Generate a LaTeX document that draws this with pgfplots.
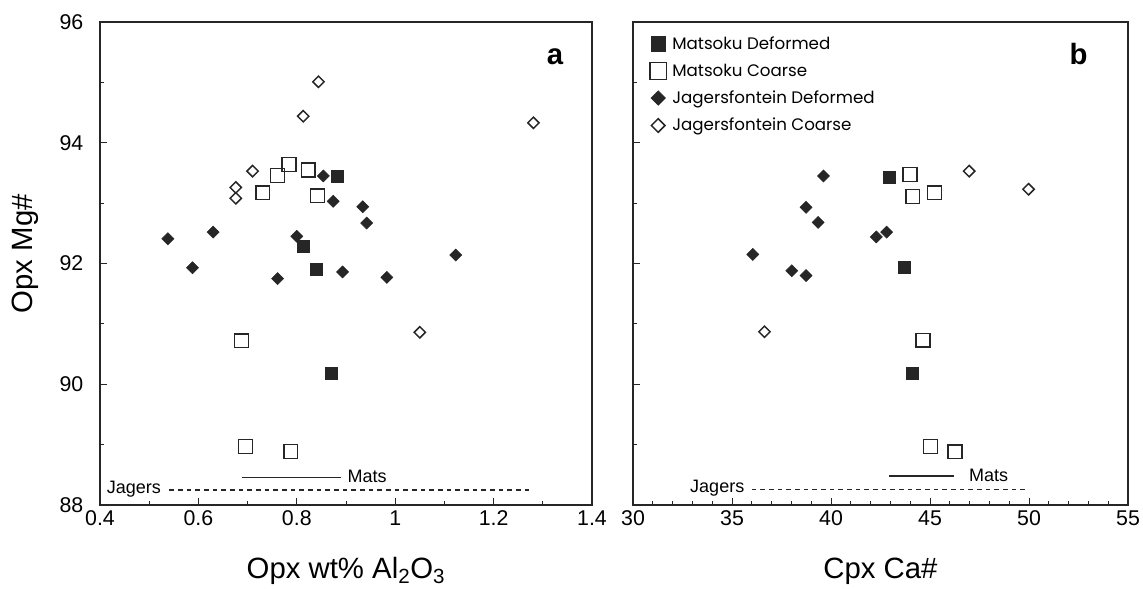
\documentclass[border=0pt]{standalone}
\usepackage{pgfplots}
\pgfplotsset{compat=1.18}
\usepackage{fontspec}
\setmainfont{Liberation Sans}
\newfontfamily\legendfont{Poppins}

% Opx Mg# against Opx Al2O3 (panel a) and Cpx Ca# (panel b)
% columns: Al2O3 (wt%), Mg#
\pgfplotstableread{
x y
0.883 93.44
0.813 92.28
0.840 91.91
0.870 90.18
}\matdefA
\pgfplotstableread{
x y
0.784 93.64
0.761 93.46
0.823 93.55
0.731 93.17
0.842 93.12
0.688 90.72
0.696 88.97
0.788 88.89
}\matcoarseA
\pgfplotstableread{
x y
0.854 93.45
0.874 93.03
0.934 92.94
0.942 92.67
0.538 92.41
0.630 92.52
0.800 92.45
0.588 91.93
0.761 91.75
0.893 91.86
0.983 91.77
1.123 92.14
}\jagdefA
\pgfplotstableread{
x y
0.844 95.01
0.813 94.44
1.281 94.33
0.710 93.53
0.676 93.26
0.676 93.08
1.050 90.86
}\jagcoarseA
% columns: Ca#, Mg#
\pgfplotstableread{
x y
42.94 93.43
43.69 91.93
44.09 90.18
}\matdefB
\pgfplotstableread{
x y
43.99 93.47
44.13 93.11
45.23 93.17
44.65 90.73
45.03 88.97
46.26 88.88
}\matcoarseB
\pgfplotstableread{
x y
39.62 93.45
38.74 92.93
39.35 92.68
42.29 92.44
42.81 92.52
36.05 92.15
38.02 91.88
38.74 91.80
}\jagdefB
\pgfplotstableread{
x y
46.98 93.53
49.98 93.23
36.64 90.87
}\jagcoarseB

\tikzset{
  rangelabel/.style={font=\fontsize{13.5}{15}\selectfont, inner sep=1pt},
  panellabel/.style={font=\fontsize{22}{26}\selectfont\bfseries, anchor=base east},
}

\pgfplotsset{
  panel/.style={
    scale only axis,
    height=362.25pt,
    ymin=88, ymax=96,
    ytick={88,90,...,96},
    minor y tick num=1,
    tick pos=left,
    tick align=inside,
    major tick length=5pt,
    minor tick length=3pt,
    axis line style={line width=0.9pt, black!85},
    every tick/.style={black!85, line width=0.7pt},
    tick label style={font=\fontsize{16}{18}\selectfont},
    /pgf/number format/assume math mode=true,
    yticklabel style={xshift=-9pt},
    xticklabel style={yshift=-1pt},
    xlabel style={font=\fontsize{22}{26}\selectfont, at={(axis description cs:0.5,0)}, anchor=base, yshift=-55pt},
    ylabel style={font=\fontsize{22}{26}\selectfont},
    clip=false,
  },
  matdef/.style={only marks, mark=square*, mark size=4.5pt, mark options={fill=black!85, draw=black!85}},
  matcoarse/.style={only marks, mark=square, mark size=5.2pt, mark options={draw=black!85, line width=1pt}},
  jagdef/.style={only marks, mark=square*, mark size=3.2pt, mark options={rotate=45, fill=black!85, draw=black!85}},
  jagcoarse/.style={only marks, mark=square, mark size=3.0pt, mark options={rotate=45, draw=black!85, line width=1.1pt}},
  rangeline/.style={black!85, line width=0.9pt, no marks},
  rangedash/.style={black!85, line width=0.9pt, no marks, dash pattern=on 3.5pt off 3pt},
}

\begin{document}
\begin{tikzpicture}
\useasboundingbox (-75pt,-63pt) rectangle (782.25pt,378.75pt);

\begin{axis}[panel,
  at={(0pt,0pt)}, anchor=south west,
  width=369pt,
  xmin=0.4, xmax=1.4,
  xtick={0.4,0.6,...,1.4},
  minor x tick num=1,
  xticklabel style={/pgf/number format/fixed, /pgf/number format/precision=1},
  xlabel={Opx wt\% Al\textsubscript{2}O\textsubscript{3}},
  ylabel={Opx Mg\#},
  ylabel style={at={(axis description cs:-0.115,0.52)}, anchor=south},
]
\addplot[matcoarse] table {\matcoarseA};
\addplot[jagcoarse] table {\jagcoarseA};
\addplot[jagdef] table {\jagdefA};
\addplot[matdef] table {\matdefA};
% compositional ranges of the two suites
\addplot[rangeline] coordinates {(0.689,88.46) (0.890,88.46)};
\addplot[rangedash] coordinates {(0.541,88.25) (1.279,88.25)};
\node[rangelabel, anchor=west] at (axis cs:0.900,88.47) {Mats};
\node[rangelabel, anchor=east] at (axis cs:0.527,88.27) {Jagers};
\node[panellabel] at (axis cs:1.351,95.3) {a};
\end{axis}

\begin{axis}[panel,
  at={(399.75pt,0pt)}, anchor=south west,
  width=371.25pt,
  xmin=30, xmax=55,
  xtick={30,35,...,55},
  minor x tick num=4,
  yticklabels={},
  xlabel={Cpx Ca\#},
  legend style={at={(axis description cs:0.022,0.982)}, anchor=north west,
    draw=none, fill=none, font=\legendfont\fontsize{12.5}{14}\selectfont,
    row sep=5.5pt, inner sep=2pt,
    nodes={inner xsep=1.5pt}},
  legend cell align=left,
  legend image code/.code={%
    \path[draw=none, fill=none] (0cm,0cm) rectangle (0.62cm,0cm);
    \draw[#1, every mark/.append style={scale=1.2}] plot coordinates {(0.3cm,0cm)};},
]
\addplot[matdef] table {\matdefB};
\addlegendentry{Matsoku Deformed}
\addplot[matcoarse] table {\matcoarseB};
\addlegendentry{Matsoku Coarse}
\addplot[jagdef] table {\jagdefB};
\addlegendentry{Jagersfontein Deformed}
\addplot[jagcoarse] table {\jagcoarseB};
\addlegendentry{Jagersfontein Coarse}
\addplot[rangeline, forget plot] coordinates {(42.95,88.48) (46.22,88.48)};
\addplot[rangedash, forget plot] coordinates {(36.0,88.26) (49.98,88.26)};
\node[rangelabel, anchor=west] at (axis cs:46.9,88.49) {Mats};
\node[rangelabel, anchor=east] at (axis cs:35.7,88.28) {Jagers};
\node[panellabel] at (axis cs:53.2,95.3) {b};
\end{axis}
\end{tikzpicture}
\end{document}
